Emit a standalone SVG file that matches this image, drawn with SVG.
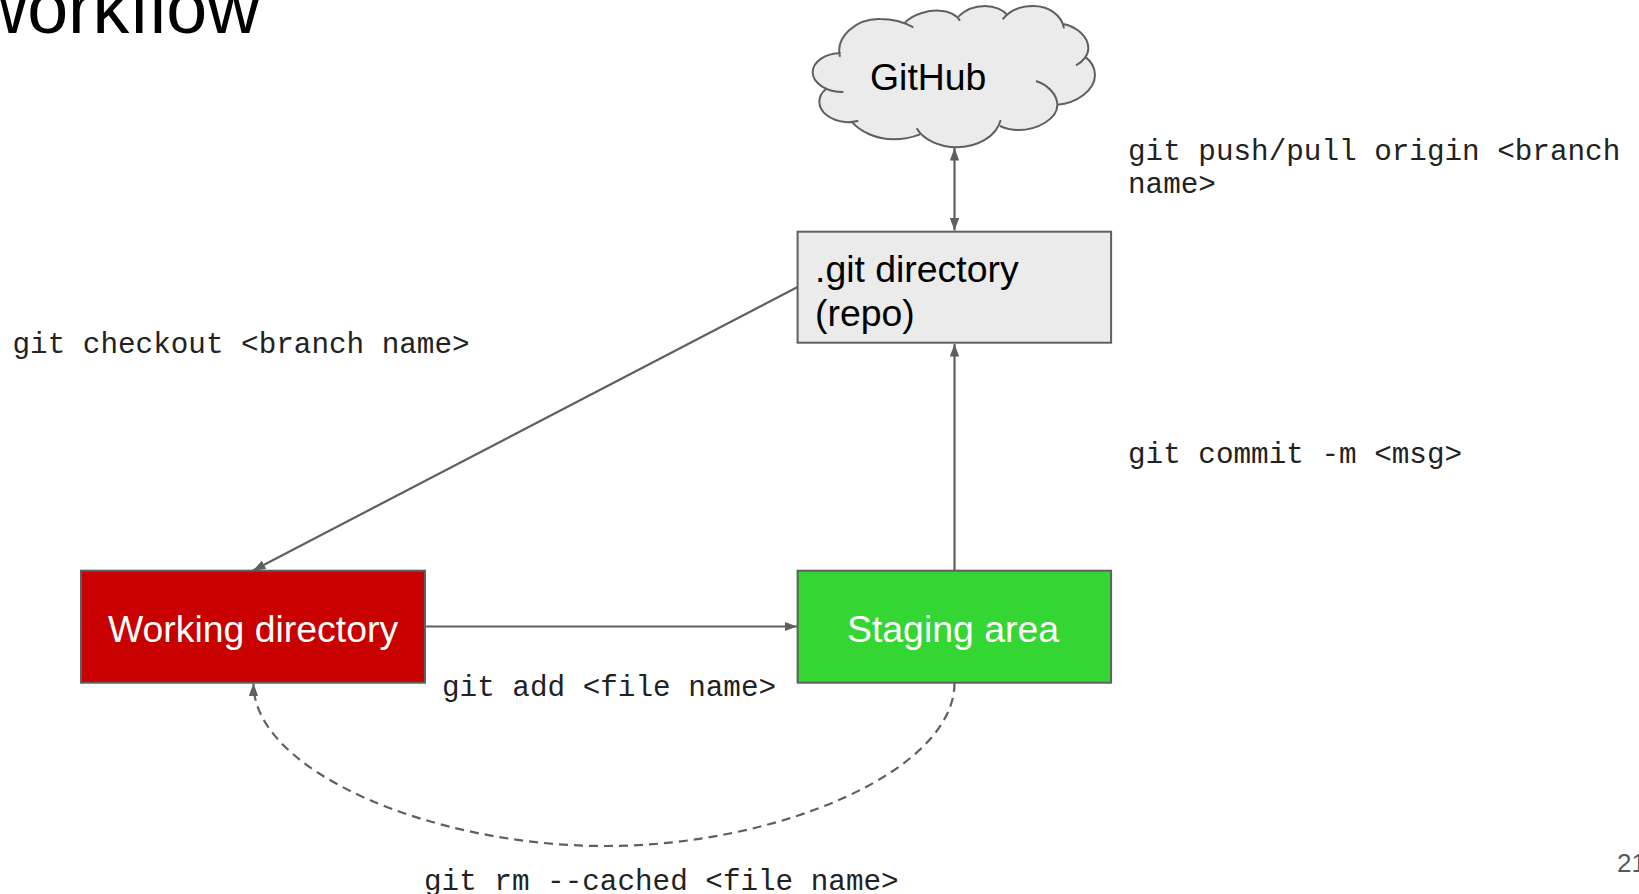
<svg xmlns="http://www.w3.org/2000/svg" width="1639" height="894" viewBox="0 0 1639 894">
<style>
.n{stroke:#5f5f5f;stroke-width:2}
.s{font-family:"Liberation Sans",Arial,sans-serif;font-size:37.4px;fill:#000}
.w{fill:#fff;text-anchor:middle}
.m{font-family:"Liberation Mono","Courier New",monospace;font-size:29.3px;fill:#222}
.c{fill:none;stroke:#5f5f5f;stroke-width:2.2}
</style>
<defs>
<marker id="a" viewBox="0 0 12 9" refX="12" refY="4.5" markerWidth="12.500" markerHeight="9.500" markerUnits="userSpaceOnUse" orient="auto-start-reverse"><path d="M0 0L12 4.5L0 9Z" fill="#5f5f5f"/></marker>
</defs>
<rect width="1639" height="894" fill="#fff"/>
<text id="title" x="-26" y="33" font-family="Liberation Sans,Arial,sans-serif" font-size="73.600" fill="#000">workflow</text>
<g id="connectors">
<path class="c" d="M954.500 148V230.500" marker-start="url(#a)" marker-end="url(#a)"/>
<path class="c" d="M797.600 287L253 570.500" marker-end="url(#a)"/>
<path class="c" d="M425 626.500H797" marker-end="url(#a)"/>
<path class="c" d="M954.500 570.500V344" marker-end="url(#a)"/>
<path class="c" stroke-dasharray="9 6" d="M954.500 683C954.500 770 780 846 605 846C430 846 253 770 253.500 683.500" marker-end="url(#a)"/>
</g>
<g id="github">
<g transform="translate(780 0) scale(.33333)">
<path fill="#ebebeb" d="M180 170C165 110 230 55 300 57C340 57 375 68 400 82L375 68C400 40 450 30 480 32C505 32 530 45 540 62L535 50C560 25 590 18 615 18C645 18 670 30 682 45L668 58C690 30 725 18 760 18C805 18 845 45 852 85L850 72C890 80 925 110 925 145C925 165 910 185 888 196L915 170C935 185 945 205 945 225C945 270 890 310 832 314L832 315C832 355 775 390 715 390C695 390 675 385 660 378L662 360C650 410 590 442 530 442C480 442 430 420 410 385L420 403C395 413 365 418 340 418C290 418 240 395 215 365L235 362C220 366 205 367 195 366C150 362 118 335 118 305C118 290 125 278 137 268L190 276C140 276 98 250 98 217C98 185 135 160 182 160Z"/>
<path fill="none" stroke="#5f5f5f" stroke-width="6" d="M180 170C165 110 230 55 300 57C340 57 375 68 400 82M375 68C400 40 450 30 480 32C505 32 530 45 540 62M535 50C560 25 590 18 615 18C645 18 670 30 682 45M668 58C690 30 725 18 760 18C805 18 845 45 852 85M850 72C890 80 925 110 925 145C925 165 910 185 888 196M915 170C935 185 945 205 945 225C945 270 890 310 832 314M768 243C805 255 832 285 832 315C832 355 775 390 715 390C695 390 675 385 660 378M662 360C650 410 590 442 530 442C480 442 430 420 410 385M420 403C395 413 365 418 340 418C290 418 240 395 215 365M235 362C220 366 205 367 195 366C150 362 118 335 118 305C118 290 125 278 137 268M190 276C140 276 98 250 98 217C98 185 135 160 182 160"/>
</g>
<text class="s" x="870" y="90">GitHub</text>
</g>
<g id="repo">
<rect class="n" x="797.600" y="231.700" width="313.500" height="111" fill="#ebebeb"/>
<text class="s" x="815" y="281.500">.git directory</text>
<text class="s" x="815" y="325.500">(repo)</text>
</g>
<g id="working">
<rect class="n" x="81" y="570.700" width="344" height="112" fill="#c80000"/>
<text class="s w" x="253" y="642">Working directory</text>
</g>
<g id="staging">
<rect class="n" x="797.600" y="570.700" width="313.500" height="112" fill="#33d633"/>
<text class="s w" x="953" y="642">Staging area</text>
</g>
<g id="labels">
<text class="m" x="1128" y="159.500">git push/pull origin &lt;branch</text>
<text class="m" x="1128" y="193">name&gt;</text>
<text class="m" x="12.500" y="353">git checkout &lt;branch name&gt;</text>
<text class="m" x="1128" y="463">git commit -m &lt;msg&gt;</text>
<text class="m" x="442" y="696">git add &lt;file name&gt;</text>
<text class="m" x="424" y="890">git rm --cached &lt;file name&gt;</text>
<text x="1617" y="872" font-family="Liberation Sans,Arial,sans-serif" font-size="26" fill="#595959">21</text>
</g>
</svg>
